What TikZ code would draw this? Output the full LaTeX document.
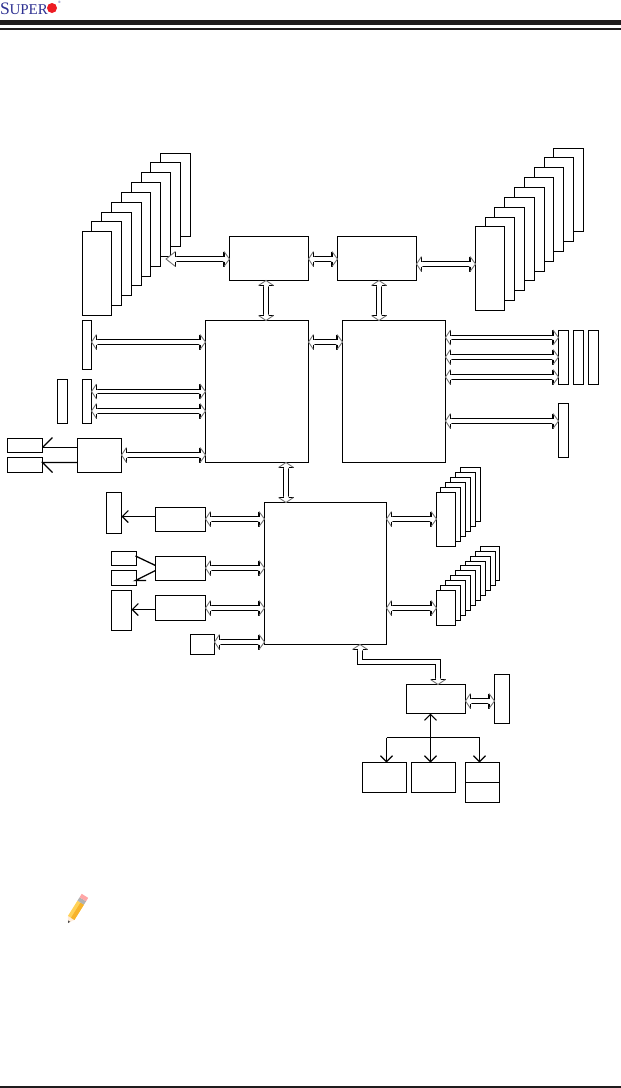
\documentclass[tikz,border=0pt]{standalone}
\usepackage{fontspec}
\setmainfont{Liberation Serif}
\usetikzlibrary{calc,arrows.meta}
\definecolor{barcol}{HTML}{1F1C1D}
\definecolor{logoblue}{HTML}{2E3192}
\definecolor{logored}{HTML}{ED1C24}
\tikzset{
  box/.style={draw=black,fill=white,line width=1.1pt,inner sep=0pt,outer sep=0pt},
  stem/.style={draw=black,line width=1.1pt},
  wire/.style={draw=black,line width=1.1pt},
  heavy/.style={draw=black,line width=1.9pt},
  barb/.style={-{Straight Barb[length=6pt,width=12pt,line width=1.1pt]}},
  barbboth/.style={{Straight Barb[length=6pt,width=12pt,line width=1.1pt]}-{Straight Barb[length=6pt,width=12pt,line width=1.1pt]}},
}
% name, x1, y1, x2, y2
\newcommand{\bx}[5]{\node[box,minimum width={(#4-#2)*1pt},minimum height={(#5-#3)*1pt}] (#1) at ({(#2+#4)/2},{(#3+#5)/2}) {};}
% tip, angle, width, half separation
\newcommand{\hd}[4]{%
  \begin{scope}[shift={(#1)},rotate=#2]
    \fill[white] (0,0)--(#3,-7.5)--(#3,-#4)--(#3+1.2,-#4)--(#3+1.2,#4)--(#3,#4)--(#3,7.5)--cycle;
    \draw[stem] (#3,-#4)--(#3,-7.5) (#3,#4)--(#3,7.5);
    \draw[black!55,line width=0.9pt] (#3,-7.5)--(0,0)--(#3,7.5);
  \end{scope}}
% left anchor, right anchor, y1, y2
\newcommand{\dah}[4]{%
  \pgfmathsetmacro\ym{(#3+#4)/2}\pgfmathsetmacro\hs{(#4-#3)/2}
  \coordinate (lt) at (#1 |- 0,\ym);
  \coordinate (rt) at (#2 |- 0,\ym);
  \coordinate (la) at ($(lt)+(\hwL,0)$);
  \coordinate (ra) at ($(rt)+(-5.5,0)$);
  \draw[stem] (la |- 0,#3) -- (ra |- 0,#3) (la |- 0,#4) -- (ra |- 0,#4);
  \hd{lt}{0}{\hwL}{\hs}\hd{rt}{180}{5.5}{\hs}}
% top anchor, bottom anchor, x1, x2
\newcommand{\dav}[4]{%
  \pgfmathsetmacro\xm{(#3+#4)/2}\pgfmathsetmacro\hs{(#4-#3)/2}
  \coordinate (tt) at (\xm,0 |- #1);
  \coordinate (bt) at (\xm,0 |- #2);
  \coordinate (ta) at ($(tt)+(0,5)$);
  \coordinate (ba) at ($(bt)+(0,-5)$);
  \draw[stem] (#3,0 |- ta) -- (#3,0 |- ba) (#4,0 |- ta) -- (#4,0 |- ba);
  \hd{tt}{-90}{5}{\hs}\hd{bt}{90}{5}{\hs}}
\def\hwL{5}
\begin{document}
\begin{tikzpicture}[x=1pt,y=-1pt]
\useasboundingbox (0,0) rectangle (621,1088);
% header and footer
\fill[barcol] (0,20) rectangle (621,25);
\fill[barcol] (0,28) rectangle (621,30);
\fill[barcol] (0,1086) rectangle (621,1088);
\node[anchor=base west,inner sep=0pt,text=logoblue] (logo) at (0,14) {\fontsize{17.5}{17.5}\selectfont S\kern-0.4pt\fontsize{15}{15}\selectfont UPER};
\fill[logored] (52,8) circle (5);
\node[inner sep=0pt,text=logoblue] (reg) at (59.5,2.5) {\fontsize{3.5}{4}\selectfont ®};
% left memory stack (back to front)
\bx{La}{160.5}{153.5}{190.5}{236.5}
\bx{Lb}{150.5}{162.5}{180.5}{246.5}
\bx{Lc}{141.5}{172.5}{170.5}{256.5}
\bx{Ld}{131.5}{182.5}{160.5}{266.5}
\bx{Le}{121.5}{192.5}{150.5}{276.5}
\bx{Lf}{111.5}{202.5}{141.5}{285.5}
\bx{Lg}{101.5}{212.5}{131.5}{295.5}
\bx{Lh}{91.5}{221.5}{121.5}{305.5}
\bx{Li}{82.5}{231.5}{111.5}{315.5}
% right memory stack
\bx{Ra}{553.5}{148.5}{583.5}{231.5}
\bx{Rb}{544.5}{157.5}{573.5}{241.5}
\bx{Rc}{534.5}{167.5}{563.5}{251.5}
\bx{Rd}{524.5}{177.5}{553.5}{261.5}
\bx{Re}{514.5}{187.5}{544.5}{271.5}
\bx{Rf}{504.5}{197.5}{534.5}{280.5}
\bx{Rg}{494.5}{207.5}{524.5}{290.5}
\bx{Rh}{485.5}{217.5}{514.5}{300.5}
\bx{Ri}{475.5}{226.5}{504.5}{310.5}
% central boxes
\bx{A}{229.5}{236.5}{308.5}{280.5}
\bx{B}{337.5}{236.5}{416.5}{280.5}
\bx{CPUa}{205.5}{320.5}{308.5}{462.5}
\bx{CPUb}{342.5}{320.5}{445.5}{462.5}
\bx{PCH}{264.5}{502.5}{386.5}{644.5}
% slots left of first processor
\bx{SlotA}{82.5}{320.5}{91.5}{369.5}
\bx{SlotB}{57.5}{379.5}{67.5}{423.5}
\bx{SlotC}{82.5}{379.5}{91.5}{423.5}
\bx{Pa}{7.5}{438.5}{42.5}{452.5}
\bx{Pb}{7.5}{457.5}{42.5}{472.5}
\bx{LAN}{77.5}{438.5}{121.5}{472.5}
\draw[line width=1.8pt] (Pa.south west) -- (Pa.north west) -- (Pa.north east);
\draw[line width=1.8pt] (Pb.south west) -- (Pb.north west);
% slots right of second processor
\bx{SlotD}{558.5}{330.5}{568.5}{384.5}
\bx{SlotE}{573.5}{330.5}{583.5}{384.5}
\bx{SlotF}{588.5}{330.5}{598.5}{384.5}
\bx{SlotG}{558.5}{403.5}{568.5}{457.5}
% left of chipset
\bx{Ua}{106.5}{492.5}{121.5}{533.5}
\bx{Ub}{155.5}{507.5}{205.5}{531.5}
\bx{Uc}{155.5}{556.5}{205.5}{580.5}
\bx{Ud}{111.5}{551.5}{136.5}{565.5}
\bx{Ue}{111.5}{570.5}{136.5}{585.5}
\bx{Uf}{155.5}{595.5}{205.5}{620.5}
\bx{Ug}{111.5}{590.5}{131.5}{630.5}
\bx{Uh}{190.5}{634.5}{214.5}{654.5}
% right of chipset: stack 1
\bx{Sa}{460.5}{467.5}{480.5}{521.5}
\bx{Sb}{455.5}{472.5}{475.5}{526.5}
\bx{Sc}{450.5}{477.5}{470.5}{531.5}
\bx{Sd}{445.5}{482.5}{465.5}{536.5}
\bx{Se}{440.5}{487.5}{460.5}{541.5}
\bx{Sf}{436.5}{492.5}{455.5}{546.5}
% stack 2
\bx{Ta}{480.5}{546.5}{499.5}{580.5}
\bx{Tb}{475.5}{551.5}{495.5}{585.5}
\bx{Tc}{470.5}{556.5}{490.5}{590.5}
\bx{Td}{465.5}{561.5}{485.5}{595.5}
\bx{Te}{460.5}{565.5}{480.5}{600.5}
\bx{Tf}{455.5}{570.5}{475.5}{605.5}
\bx{Tg}{450.5}{575.5}{470.5}{610.5}
\bx{Th}{445.5}{580.5}{465.5}{615.5}
\bx{Ti}{440.5}{585.5}{460.5}{620.5}
\bx{Tj}{436.5}{590.5}{455.5}{625.5}
% lower group
\bx{SAS}{406.5}{684.5}{465.5}{713.5}
\bx{Va}{494.5}{674.5}{509.5}{723.5}
\bx{Vb}{362.5}{762.5}{406.5}{792.5}
\bx{Vc}{411.5}{762.5}{455.5}{792.5}
\bx{Vd}{465.5}{762.5}{499.5}{802.5}
\draw[wire] (Vd.west |- 0,782.5) -- (Vd.east |- 0,782.5);
% hollow double arrows
{\def\hwL{9.5}
 \coordinate (stackL) at ($(Lc.east)+(-4.5,0)$);
 \dah{stackL}{A.west}{256.5}{261.5}}
\dah{A.east}{B.west}{256.5}{261.5}
\dah{B.east}{Ri.west}{261.5}{266.5}
\dav{A.south}{CPUa.north}{263.5}{268.5}
\dav{B.south}{CPUb.north}{376.5}{381.5}
\dah{CPUa.east}{CPUb.west}{339.5}{344.5}
\dah{SlotA.east}{CPUa.west}{339.5}{344.5}
\dah{SlotC.east}{CPUa.west}{389.5}{393.5}
\dah{SlotC.east}{CPUa.west}{408.5}{413.5}
\dah{LAN.east}{CPUa.west}{452.5}{457.5}
\dah{CPUb.east}{SlotD.west}{335.5}{339.5}
\dah{CPUb.east}{SlotD.west}{354.5}{359.5}
\dah{CPUb.east}{SlotD.west}{374.5}{379.5}
\dah{CPUb.east}{SlotG.west}{418.5}{423.5}
\dav{CPUa.south}{PCH.north}{283.5}{288.5}
\dah{Ub.east}{PCH.west}{516.5}{521.5}
\dah{Uc.east}{PCH.west}{565.5}{570.5}
\dah{Uf.east}{PCH.west}{605.5}{610.5}
\dah{Uh.east}{PCH.west}{639.5}{644.5}
\dah{PCH.east}{Sf.west}{516.5}{521.5}
\dah{PCH.east}{Tj.west}{605.5}{610.5}
\dah{SAS.east}{Va.west}{698.5}{703.5}
% bent hollow arrow from chipset to SAS
\coordinate (bentA) at (360,0 |- PCH.south);
\coordinate (bentB) at (438,0 |- SAS.north);
\draw[stem] (357.5,0 |- bentA) ++(0,5) -- (357.5,664.5) -- (435.5,664.5) -- (435.5,679.5);
\draw[stem] (362.5,0 |- bentA) ++(0,5) -- (362.5,659.5) -- (440.5,659.5) -- (440.5,679.5);
\hd{bentA}{-90}{5}{2.5}
\hd{bentB}{90}{5}{2.5}
% single line connectors
\draw[wire,barb] (Ub.west |- 0,516.5) -- (Ua.east |- 0,516.5);
\draw[heavy,-{Straight Barb[length=6pt,width=12pt,line width=1.1pt]}] (Uf.west |- 0,609.5) -- (Ug.east |- 0,609.5);
\draw[wire,line width=1.3pt] (Uc.west |- 0,565.5) -- (135.5,556);
\draw[wire,line width=1.3pt] (Uc.west |- 0,570.5) -- (135.5,580.5) -- (146,580.5);
\draw[heavy] (LAN.west |- 0,447.5) -- (Pa.east |- 0,447.5);
\draw[wire] (Pa.east |- 0,447.5) -- ++(10,-10);
\draw[wire] (LAN.west |- 0,462.5) -- (Pb.east |- 0,462.5) -- ++(10,10);
% tree below SAS
\coordinate (trunk) at (430.5,737.5);
\draw[wire,barbboth] (SAS.south -| trunk) -- (Vc.north -| trunk);
\draw[wire] (386.5,737.5) -- (trunk);
\draw[heavy] (411.5,737.5) -- (trunk);
\draw[wire] (trunk) -- (479.5,737.5);
\draw[wire,barb] (386.5,737.5) -- (386.5,0 |- Vb.north);
\draw[heavy,-{Straight Barb[length=6pt,width=12pt,line width=1.1pt]}] (479.5,737.5) -- (479.5,0 |- Vd.north);
% pencil note icon
\definecolor{pencilY}{HTML}{FFD258}
\definecolor{pencilO}{HTML}{F7B32B}
\begin{scope}[shift={(68,923)},rotate=58]
  \fill[orange!15!white] (0,0) -- (6,-3.8) -- (6,3.8) -- cycle;
  \fill[black!70] (0,0) -- (2.2,-1.3) -- (2.2,1.3) -- cycle;
  \fill[pencilY] (6,-3.8) rectangle (24,3.8);
  \fill[pencilO] (6,-0.2) rectangle (24,3.8);
  \fill[gray!60] (24,-3.8) rectangle (28,3.8);
  \fill[red!35!white] (28,-3.8) rectangle (32,3.8);
\end{scope}
\end{tikzpicture}
\end{document}
